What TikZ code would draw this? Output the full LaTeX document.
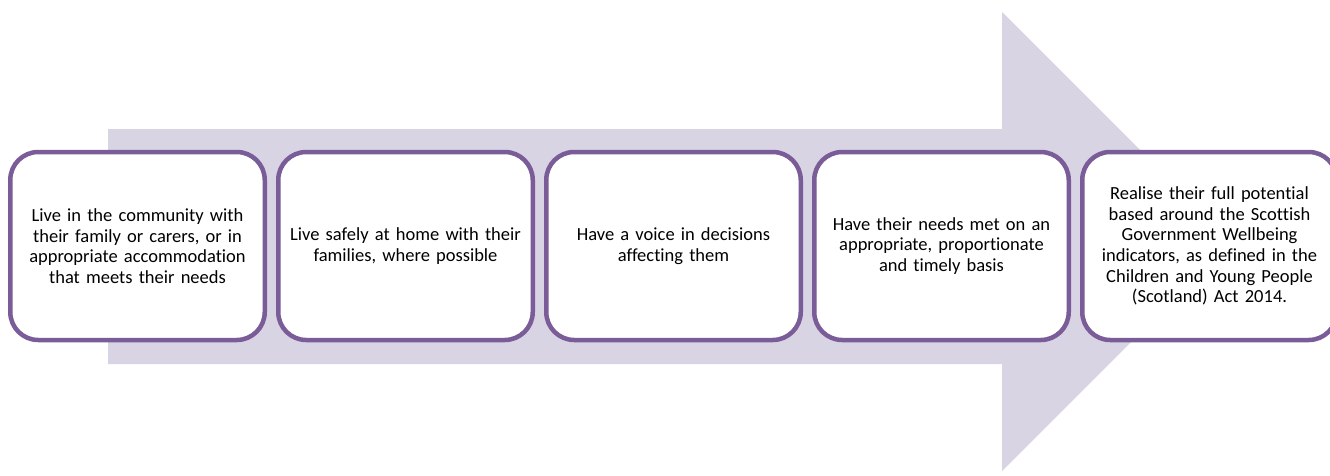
\documentclass[tikz,border=0pt]{standalone}
\usepackage{fontspec}
\setmainfont[Ligatures=NoCommon]{Carlito}
\definecolor{boxpurple}{RGB}{122,92,152}
\definecolor{arrowfill}{RGB}{216,212,228}
\begin{document}
\begin{tikzpicture}[x=1pt,y=-1pt,
  stepbox/.style={draw=boxpurple, line width=4.5pt, fill=white, rounded corners=28pt,
    minimum width=254.5pt, minimum height=188pt, align=center, text width=240pt,
    font=\fontsize{18.5}{20.7}\selectfont, inner sep=0pt}]
\useasboundingbox (0,0) rectangle (1330,475);
\clip (0,0) rectangle (1330,475);
\fill[arrowfill] (108,129) -- (1002,129) -- (1002,12) -- (1231.5,241.5) -- (1002,471) -- (1002,364) -- (108,364) -- cycle;
\node[stepbox] (b1) at (137.5,246) {Live in the community with\\their family or carers, or in\\appropriate accommodation\\that meets their needs};
\node[stepbox] (b2) at (405.5,246) {Live safely at home with their\\families, where possible};
\node[stepbox] (b3) at (673.5,246) {Have a voice in decisions\\affecting them};
\node[stepbox] (b4) at (941.5,246) {Have their needs met on an\\appropriate, proportionate\\and timely basis};
\node[stepbox] (b5) at (1209.5,246) {Realise their full potential\\based around the Scottish\\Government Wellbeing\\indicators, as defined in the\\Children and Young People\\(Scotland) Act 2014.};
\end{tikzpicture}
\end{document}
